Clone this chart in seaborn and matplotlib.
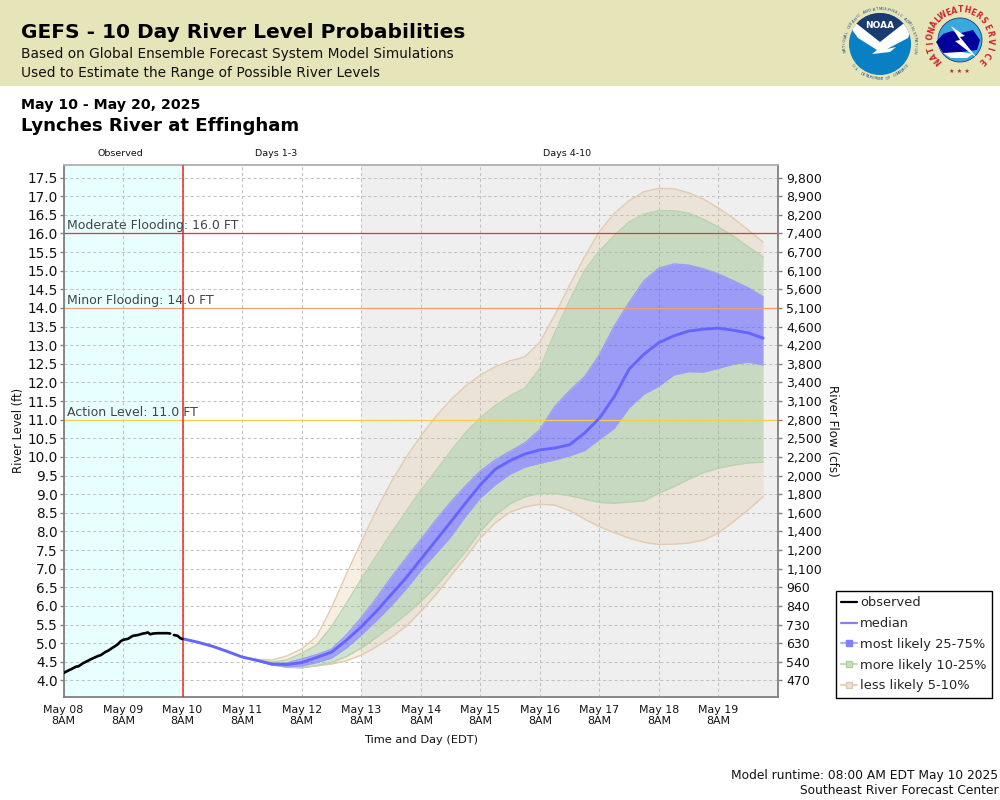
import numpy as np
import pandas as pd
import matplotlib
matplotlib.use('Agg')
import matplotlib.pyplot as plt
from matplotlib.lines import Line2D
from matplotlib.patches import Circle, Polygon, Rectangle
import seaborn as sns

# observed stage, hours since May 08 8AM (there is a small gap before May 10)
obs_hours_a = [0, 2, 3, 5, 6, 8, 9, 11, 12, 14, 15, 17, 18, 20, 21, 22, 23, 24, 26, 28, 30, 32, 33, 34, 35, 36, 38, 40, 42, 43]
obs_level_a = [4.2, 4.27, 4.3, 4.37, 4.38, 4.47, 4.5, 4.57, 4.6, 4.66, 4.68, 4.77, 4.8, 4.89, 4.93, 4.98, 5.05, 5.09, 5.12, 5.2, 5.22, 5.26, 5.27, 5.29, 5.24, 5.26, 5.27, 5.27, 5.27, 5.26]
obs_hours_b = [44.5, 46, 47, 48]
obs_level_b = [5.22, 5.2, 5.14, 5.11]

# forecast is 6 hourly from May 10 8AM
fc_hours = list(range(48, 288, 6))
median = [5.12, 5.03, 4.92, 4.78, 4.63, 4.54, 4.44, 4.43, 4.48, 4.62, 4.76, 5.08, 5.44, 5.85, 6.3, 6.75, 7.25, 7.75, 8.25, 8.76,
          9.25, 9.67, 9.9, 10.08, 10.19, 10.24, 10.33, 10.64, 11.04, 11.62, 12.36, 12.76, 13.07, 13.25, 13.38, 13.43, 13.46, 13.4, 13.33, 13.19]
p25 = [5.12, 5.03, 4.92, 4.78, 4.63, 4.53, 4.42, 4.37, 4.39, 4.48, 4.6, 4.87, 5.22, 5.6, 6.0, 6.45, 6.95, 7.4, 7.85, 8.4,
       8.9, 9.25, 9.54, 9.73, 9.83, 9.92, 10.03, 10.17, 10.47, 10.77, 11.32, 11.69, 11.9, 12.2, 12.29, 12.28, 12.38, 12.49, 12.55, 12.47]
p75 = [5.12, 5.03, 4.92, 4.78, 4.63, 4.55, 4.46, 4.47, 4.58, 4.69, 4.84, 5.22, 5.68, 6.2, 6.76, 7.28, 7.78, 8.3, 8.78, 9.22,
       9.62, 9.92, 10.15, 10.38, 10.73, 11.35, 11.78, 12.15, 12.74, 13.51, 14.15, 14.73, 15.07, 15.18, 15.15, 15.05, 14.91, 14.73, 14.54, 14.3]
p10 = [5.12, 5.03, 4.92, 4.78, 4.63, 4.53, 4.42, 4.36, 4.34, 4.4, 4.48, 4.64, 4.87, 5.15, 5.45, 5.77, 6.12, 6.52, 6.98, 7.46,
       8.0, 8.44, 8.74, 8.93, 9.02, 9.02, 8.96, 8.87, 8.78, 8.76, 8.79, 8.82, 9.03, 9.2, 9.4, 9.58, 9.7, 9.78, 9.84, 9.86]
p90 = [5.12, 5.03, 4.92, 4.78, 4.63, 4.55, 4.5, 4.55, 4.73, 4.95, 5.44, 6.07, 6.72, 7.33, 7.95, 8.52, 9.1, 9.62, 10.15, 10.65,
       11.05, 11.38, 11.64, 11.85, 12.38, 13.33, 14.2, 15.0, 15.53, 15.94, 16.31, 16.52, 16.61, 16.61, 16.54, 16.38, 16.17, 15.93, 15.64, 15.37]
p5 = [5.12, 5.03, 4.92, 4.78, 4.63, 4.53, 4.42, 4.35, 4.35, 4.39, 4.44, 4.53, 4.68, 4.9, 5.15, 5.45, 5.85, 6.3, 6.8, 7.29,
      7.82, 8.23, 8.52, 8.66, 8.73, 8.71, 8.56, 8.33, 8.13, 7.97, 7.82, 7.71, 7.65, 7.66, 7.69, 7.77, 7.96, 8.26, 8.58, 8.93]
p95 = [5.12, 5.03, 4.92, 4.78, 4.63, 4.57, 4.55, 4.66, 4.85, 5.18, 5.95, 6.85, 7.72, 8.56, 9.32, 9.98, 10.56, 11.08, 11.53, 11.9,
       12.2, 12.42, 12.58, 12.69, 13.08, 13.81, 14.61, 15.37, 16.05, 16.54, 16.88, 17.12, 17.21, 17.2, 17.09, 16.92, 16.68, 16.41, 16.09, 15.77]

level_ticks = [4.0, 4.5, 5.0, 5.5, 6.0, 6.5, 7.0, 7.5, 8.0, 8.5, 9.0, 9.5, 10.0, 10.5,
               11.0, 11.5, 12.0, 12.5, 13.0, 13.5, 14.0, 14.5, 15.0, 15.5, 16.0, 16.5, 17.0, 17.5]
flow_labels = ['470', '540', '630', '730', '840', '960', '1,100', '1,200', '1,400', '1,600', '1,800', '2,000', '2,200', '2,500',
               '2,800', '3,100', '3,400', '3,800', '4,200', '4,600', '5,100', '5,600', '6,100', '6,700', '7,400', '8,200', '8,900', '9,800']
flood_levels = [16.0, 14.0, 11.0]
flood_names = ['Moderate Flooding: 16.0 FT', 'Minor Flooding: 14.0 FT', 'Action Level: 11.0 FT']
flood_colors = ['#E03A2E', '#EFA070', '#F5CF45']

start = pd.Timestamp('2025-05-08 08:00')
tick_days = pd.date_range(start, periods=13, freq='D')


def to_time(hours):
    return start + pd.to_timedelta(hours, unit='h')


def ring_text(ax, text, cx, cy, r, a0, a1, size, color, weight='normal', flip=False):
    # letters around a circle, angles in degrees clockwise from the left
    angles = np.linspace(a0, a1, len(text))
    for ch, a in zip(text, angles):
        t = np.radians(a)
        rot = 90 - a + (180 if flip else 0)
        ax.text(cx - r * np.cos(t), cy - r * np.sin(t), ch, fontsize=size, color=color, weight=weight,
                rotation=rot, ha='center', va='center')


sns.set_theme(style='whitegrid', rc={'grid.color': '#C2C2C2', 'grid.linestyle': (0, (3, 2.5)), 'grid.linewidth': 0.75})
plt.rcParams['font.family'] = ['DejaVu Sans']

fig = plt.figure(figsize=(10, 8), dpi=100)

# header band and logos live on a pixel sized overlay
bg = fig.add_axes([0, 0, 1, 1], zorder=0)
bg.set_xlim(0, 1000)
bg.set_ylim(800, 0)
bg.axis('off')
bg.add_patch(Rectangle((0, 0), 1000, 86, color='#E5E5B9', lw=0))

# NOAA
noaa_disc = Circle((880, 44), 31, color='#0A80C4', lw=0)
bg.add_patch(noaa_disc)
navy = Polygon([(845, 8), (915, 8), (915, 20), (903, 24), (880, 42), (857, 24), (845, 20)], color='#1B3A6F', lw=0)
white = Polygon([(845, 20), (857, 24), (880, 42), (903, 24), (915, 20), (908, 38), (887, 49), (896, 47), (890, 52), (872, 54), (877, 50), (858, 38)],
                color='white', lw=0)
bg.add_patch(navy)
bg.add_patch(white)
navy.set_clip_path(noaa_disc)
white.set_clip_path(noaa_disc)
bg.text(880, 25, 'NOAA', fontsize=6.5, color='white', weight='bold', ha='center', va='center')
ring_text(bg, 'NATIONAL OCEANIC AND ATMOSPHERIC ADMINISTRATION', 880, 44, 35, -12, 192, 2.7, '#2A4A7A')
ring_text(bg, 'U.S. DEPARTMENT OF COMMERCE', 880, 44, 35, 322, 218, 2.7, '#2A4A7A', flip=True)

# NWS
bg.add_patch(Circle((960, 40), 22, color='#39A9DC', ec='#1B3A8F', lw=0.6))
bg.add_patch(Polygon([(936, 42), (943, 34), (952, 31), (961, 33), (973, 30), (980, 40), (977, 50), (961, 52), (944, 54)], color='#00009A', lw=0))
bg.add_patch(Polygon([(943, 53), (961, 52), (973, 54), (967, 58), (951, 58)], color='white', lw=0))
bg.add_patch(Polygon([(951, 26), (965, 36), (960, 37), (977, 58), (955, 41), (960, 40)], color='white', lw=0))
ring_text(bg, 'NATIONAL', 960, 40, 30, -44, 44, 5.5, '#D0202A', 'bold')
ring_text(bg, 'WEATHER', 960, 40, 30, 56, 126, 5.5, '#D0202A', 'bold')
ring_text(bg, 'SERVICE', 960, 40, 30, 140, 224, 5.5, '#D0202A', 'bold')
bg.text(959, 71, '★ ★ ★', fontsize=4.5, color='#D0202A', ha='center', va='center')

ax = fig.add_axes([0.0635, 0.12875, 0.7145, 0.6656], zorder=2)

obs_a = pd.DataFrame({'time': to_time(np.array(obs_hours_a)), 'level': obs_level_a})
obs_b = pd.DataFrame({'time': to_time(np.array(obs_hours_b)), 'level': obs_level_b})
fc = pd.DataFrame({'time': to_time(np.array(fc_hours)), 'median': median, 'p5': p5, 'p10': p10,
                   'p25': p25, 'p75': p75, 'p90': p90, 'p95': p95})

ax.axvspan(tick_days[0], tick_days[2], color='#E8FFFF', lw=0, zorder=0.1)
ax.axvspan(tick_days[5], tick_days[12], color='#EFEFEF', lw=0, zorder=0.1)

tan_fill, tan_edge = '#DEB887', '#E2CBB0'
green_fill, green_edge = '#90BE82', '#B9D3AD'
blue_fill, blue_edge = '#5050FF', '#9C9CF4'

ax.fill_between(fc['time'], fc['p5'], fc['p10'], color=tan_fill, alpha=0.22, lw=0)
ax.fill_between(fc['time'], fc['p90'], fc['p95'], color=tan_fill, alpha=0.22, lw=0)
ax.fill_between(fc['time'], fc['p10'], fc['p25'], color=green_fill, alpha=0.42, lw=0)
ax.fill_between(fc['time'], fc['p75'], fc['p90'], color=green_fill, alpha=0.42, lw=0)
ax.fill_between(fc['time'], fc['p25'], fc['p75'], color=blue_fill, alpha=0.52, lw=0)

for name, edge in [('p5', tan_edge), ('p95', tan_edge), ('p10', green_edge), ('p90', green_edge), ('p25', blue_edge), ('p75', blue_edge)]:
    sns.lineplot(data=fc, x='time', y=name, color=edge, lw=1.0, ax=ax, legend=False, zorder=1.5)

for level, name, col in zip(flood_levels, flood_names, flood_colors):
    ax.axhline(level, color=col, lw=0.9, zorder=2)
    ax.text(0.005, level + 0.03, name, transform=ax.get_yaxis_transform(), fontsize=9.0, color='#444444', va='bottom', zorder=5)

ax.axvline(tick_days[2], color='#FF2020', lw=1.1, zorder=3)

sns.lineplot(data=fc, x='time', y='median', color='#6666FF', lw=2.1, ax=ax, legend=False, zorder=4)
sns.lineplot(data=obs_a, x='time', y='level', color='black', lw=1.9, ax=ax, legend=False, zorder=4)
sns.lineplot(data=obs_b, x='time', y='level', color='black', lw=1.9, ax=ax, legend=False, zorder=4)

ax.set_xlim(tick_days[0], tick_days[12])
ax.set_ylim(3.557, 17.85)
ax.set_yticks(level_ticks)
ax.set_yticklabels([f'{v:.1f}' for v in level_ticks])
ax.set_xticks(tick_days[:-1])
ax.set_xticklabels([d.strftime('%b %d') + '\n8AM' for d in tick_days[:-1]], fontsize=7.9, linespacing=1.05)
ax.tick_params(axis='y', labelsize=9.8, length=3, width=1, color='#808080', pad=1, labelcolor='#111111')
ax.tick_params(axis='x', length=3, width=1, color='#808080', pad=3, labelcolor='#111111')
ax.set_axisbelow(True)
ax.grid(True)
ax.set_xlabel('Time and Day (EDT)', fontsize=8.2, labelpad=7, color='#111111')
ax.set_ylabel('River Level (ft)', fontsize=8.3, labelpad=2, color='#111111')
for side in ['left', 'bottom', 'right']:
    ax.spines[side].set_color('#808080')
    ax.spines[side].set_linewidth(1.3)
ax.spines['top'].set_color('#B0B0B0')
ax.spines['top'].set_linewidth(1.3)

ax2 = ax.twinx()
ax2.set_ylim(ax.get_ylim())
ax2.set_yticks(level_ticks)
ax2.set_yticklabels(flow_labels)
ax2.grid(False)
ax2.tick_params(axis='y', labelsize=9.0, length=3, width=1, color='#808080', pad=3, labelcolor='#111111')
ax2.set_ylabel('River Flow (cfs)', fontsize=8.6, rotation=270, labelpad=12, color='#111111')
for s in ax2.spines.values():
    s.set_visible(False)

handles = [
    Line2D([], [], color='black', lw=1.6),
    Line2D([], [], color='#8080FF', lw=1.6),
    Line2D([], [], color='#B0B0FF', lw=1.6, marker='s', ms=5, mfc='#8080FF', mec='#8080FF'),
    Line2D([], [], color='#C3DDB4', lw=1.6, marker='s', ms=5, mfc='#C9DFBB', mec='#B0D09C'),
    Line2D([], [], color='#E8D2BC', lw=1.6, marker='s', ms=5, mfc='#EFE2D3', mec='#DFC9B2'),
]
fig.legend(handles, ['observed', 'median', 'most likely 25-75%', 'more likely 10-25%', 'less likely 5-10%'],
           loc='upper left', bbox_to_anchor=(0.8355, 0.2615), bbox_transform=fig.transFigure,
           fontsize=9.35, frameon=True, fancybox=False, edgecolor='black', facecolor='white', framealpha=1,
           borderpad=0.42, labelspacing=0.6, handlelength=1.2, handletextpad=0.25, borderaxespad=0)

fig.text(0.021, 1 - 33 / 800, 'GEFS - 10 Day River Level Probabilities', fontsize=14.5, weight='bold', color='black', va='center', zorder=5)
fig.text(0.021, 1 - 54 / 800, 'Based on Global Ensemble Forecast System Model Simulations', fontsize=9.95, color='#111111', va='center', zorder=5)
fig.text(0.021, 1 - 73 / 800, 'Used to Estimate the Range of Possible River Levels', fontsize=9.95, color='#111111', va='center', zorder=5)
fig.text(0.021, 1 - 105 / 800, 'May 10 - May 20, 2025', fontsize=10.2, weight='bold', color='black', va='center')
fig.text(0.021, 1 - 126 / 800, 'Lynches River at Effingham', fontsize=13.1, weight='bold', color='black', va='center')
fig.text(0.120, 1 - 154 / 800, 'Observed', fontsize=6.8, color='#111111', ha='center', va='center')
fig.text(0.2765, 1 - 154 / 800, 'Days 1-3', fontsize=6.8, color='#111111', ha='center', va='center')
fig.text(0.567, 1 - 154 / 800, 'Days 4-10', fontsize=6.8, color='#111111', ha='center', va='center')
fig.text(0.9985, 1 - 775 / 800, 'Model runtime: 08:00 AM EDT May 10 2025', fontsize=8.8, color='#111111', ha='right', va='center')
fig.text(0.9985, 1 - 791 / 800, 'Southeast River Forecast Center', fontsize=8.8, color='#111111', ha='right', va='center')

fig.savefig('out.png', dpi=100)
plt.close(fig)
